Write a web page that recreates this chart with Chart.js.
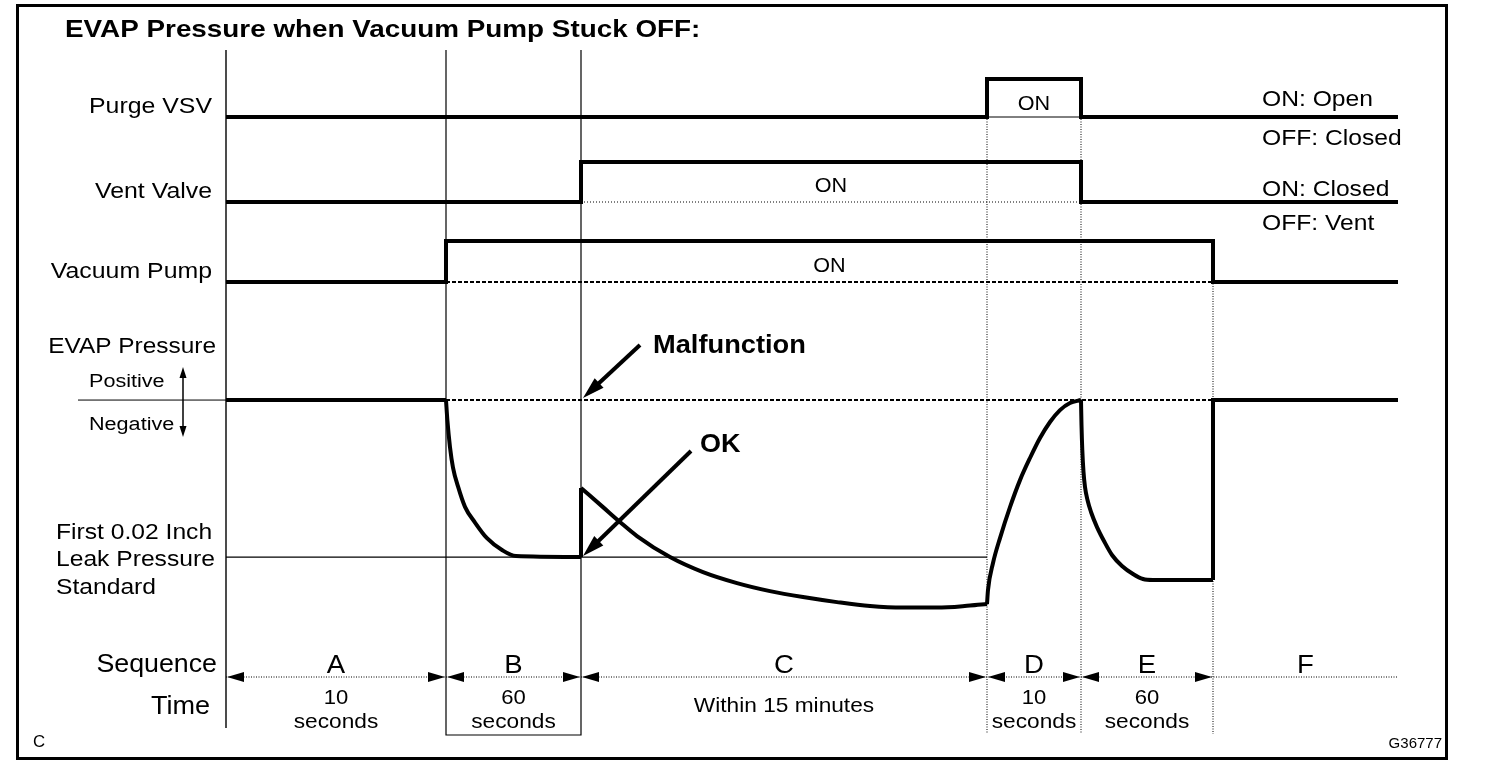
<!DOCTYPE html>
<html>
<head>
<meta charset="utf-8">
<title>EVAP Pressure when Vacuum Pump Stuck OFF</title>
<script src="https://cdn.jsdelivr.net/npm/chart.js@4.4.1/dist/chart.umd.min.js"></script>
<style>
  html, body { margin: 0; padding: 0; background: #fff; overflow: hidden; }
  #wrap { position: relative; width: 1504px; height: 772px; }
  #chart { display: block; }
  #frame { position: absolute; left: 16px; top: 4px; width: 1432px; height: 756px;
           box-sizing: border-box; border: 3px solid #000; pointer-events: none; }
</style>
</head>
<body>
<div id="wrap">
  <canvas id="chart" width="1504" height="772"></canvas>
  <div id="frame"></div>
</div>
<script>
// ------------------------------------------------------------
// Data (schematic timing diagram)
// ------------------------------------------------------------
const phaseNames = ['A', 'B', 'C', 'D', 'E', 'F'];
const phaseTimes = [['10', 'seconds'], ['60', 'seconds'], ['Within 15 minutes'], ['10', 'seconds'], ['60', 'seconds'], []];
// phase boundaries along the (non-linear) time axis, diagram units
const phaseEdges = [0, 22, 35.5, 76.1, 85.5, 98.7, 117.2];

const signalNames = ['Purge VSV', 'Vent Valve', 'Vacuum Pump'];
// 1 = ON per phase A..F
const purgeVsvOn   = [0, 0, 0, 1, 0, 0];
const ventValveOn  = [0, 0, 1, 1, 0, 0];
const vacuumPumpOn = [0, 1, 1, 1, 1, 0];
const stateLegends = [['ON: Open', 'OFF: Closed'], ['ON: Closed', 'OFF: Vent'], []];

// EVAP pressure, 0 = atmospheric, -1 = first 0.02 inch leak standard
const leakStandard = -1;
const pressureIdleA  = [[0, 0], [22, 0]];
const pressureDropB  = [[22, 0], [22.14, -0.13], [22.4, -0.30], [22.7, -0.43], [23.2, -0.55], [23.9, -0.68],
                        [24.9, -0.78], [26.1, -0.88], [27.6, -0.955], [29.0, -0.994], [35.5, -1.0]];
const pressureJump   = [[35.5, -1.0], [35.5, -0.56]];
const pressureDecayC = [[35.5, -0.56], [37.7, -0.682], [39.4, -0.777], [41.1, -0.866], [44.4, -1.0], [47.7, -1.096],
                        [51.1, -1.166], [54.4, -1.217], [57.7, -1.255], [61.1, -1.287], [64.4, -1.312],
                        [67.7, -1.322], [71.1, -1.322], [74.4, -1.309], [76.1, -1.299]];
const pressureRiseD  = [[76.1, -1.299], [76.2, -1.21], [76.7, -1.038], [77.4, -0.879], [78.4, -0.682], [79.4, -0.51],
                        [80.4, -0.369], [81.4, -0.242], [82.4, -0.14], [83.4, -0.064], [84.4, -0.019], [85.5, 0]];
const pressureDropE  = [[85.5, 0], [85.55, -0.159], [85.63, -0.318], [85.75, -0.458], [85.9, -0.554], [86.15, -0.637],
                        [86.5, -0.713], [87.1, -0.809], [87.8, -0.898], [88.6, -0.987], [89.6, -1.057], [90.7, -1.108],
                        [91.7, -1.14], [92.7, -1.146], [98.7, -1.146]];
const pressureVentF  = [[98.7, -1.146], [98.7, 0], [117.2, 0]];

// ------------------------------------------------------------
// Layout (track rows on the y axis, tenths of a pixel row)
// ------------------------------------------------------------
const trackLow  = [11.7, 20.2, 28.2];
const trackHigh = [7.9, 16.2, 24.1];
const FONT = '"Liberation Sans", Arial, Helvetica, sans-serif';

function pts(arr) { return arr.map(p => ({ x: p[0], y: p[1] })); }

function stepLine(states, lo, hi) {
  const out = [];
  states.forEach((s, i) => {
    const v = s ? hi : lo;
    out.push({ x: phaseEdges[i], y: v }, { x: phaseEdges[i + 1], y: v });
  });
  return out;
}

function onSpan(states) {
  const first = states.indexOf(1);
  const last = states.lastIndexOf(1);
  return [phaseEdges[first], phaseEdges[last + 1]];
}

function line(data, opts) {
  return Object.assign({
    data, showLine: true, pointRadius: 0, borderColor: '#000', borderWidth: 1,
    fill: false, tension: 0, yAxisID: 'y', borderCapStyle: 'butt', borderJoinStyle: 'miter',
  }, opts || {});
}

const signalStates = [purgeVsvOn, ventValveOn, vacuumPumpOn];
const baseDash = [[], [1, 2], [4, 2]];
const baseWidth = [1, 1, 2];

const datasets = [];

// signal traces + the thin OFF reference under each ON pulse
signalStates.forEach((st, i) => {
  const [a, b] = onSpan(st);
  datasets.push(line([{ x: a, y: trackLow[i] }, { x: b, y: trackLow[i] }],
    { borderDash: baseDash[i], borderWidth: baseWidth[i] }));
  datasets.push(line(stepLine(st, trackLow[i], trackHigh[i]), { borderWidth: 4 }));
});

// pressure references
const pumpSpan = onSpan(vacuumPumpOn);
datasets.push(line([{ x: pumpSpan[0], y: 0 }, { x: pumpSpan[1], y: 0 }],
  { yAxisID: 'yP', borderDash: [4, 2], borderWidth: 2 }));
datasets.push(line([{ x: phaseEdges[0], y: leakStandard }, { x: phaseEdges[3], y: leakStandard }],
  { yAxisID: 'yP', borderWidth: 1.3 }));
datasets.push(line([{ x: -14.8, y: 0 }, { x: phaseEdges[0], y: 0 }],
  { yAxisID: 'yP', borderWidth: 1 }));

// pressure trace
[pressureIdleA, pressureJump, pressureVentF].forEach(seg =>
  datasets.push(line(pts(seg), { yAxisID: 'yP', borderWidth: 4 })));
[pressureDropB, pressureDecayC, pressureRiseD, pressureDropE].forEach(seg =>
  datasets.push(line(pts(seg), { yAxisID: 'yP', borderWidth: 4, borderJoinStyle: 'round', cubicInterpolationMode: 'monotone' })));

// phase boundaries
datasets.push(line([{ x: phaseEdges[0], y: 5.0 }, { x: phaseEdges[0], y: 72.8 }], { borderWidth: 1.4 }));
datasets.push(line([{ x: phaseEdges[1], y: 5.0 }, { x: phaseEdges[1], y: 73.5 },
                    { x: phaseEdges[2], y: 73.5 }, { x: phaseEdges[2], y: 5.0 }], { borderWidth: 1.2 }));
datasets.push(line([{ x: phaseEdges[3], y: trackHigh[0] }, { x: phaseEdges[3], y: 73.4 }], { borderDash: [1, 1.5] }));
datasets.push(line([{ x: phaseEdges[4], y: trackHigh[0] }, { x: phaseEdges[4], y: 73.4 }], { borderDash: [1, 1.5] }));
datasets.push(line([{ x: phaseEdges[5], y: trackHigh[2] }, { x: phaseEdges[5], y: 73.4 }], { borderDash: [1, 1.5] }));

// sequence dimension line
datasets.push(line([{ x: phaseEdges[0], y: 67.7 }, { x: phaseEdges[6], y: 67.7 }], { borderDash: [1, 1.5] }));

// ------------------------------------------------------------
// Text and arrowheads
// ------------------------------------------------------------
function label(ctx, s, px, py, o) {
  ctx.save();
  ctx.font = (o.bold ? 'bold ' : '') + o.size + 'px ' + FONT;
  ctx.fillStyle = '#000';
  ctx.textAlign = o.align || 'center';
  ctx.textBaseline = 'alphabetic';
  ctx.translate(px, py);
  ctx.scale(o.sx || 1.13, 1);
  ctx.fillText(s, 0, 0);
  ctx.restore();
}

function head(ctx, tx, ty, dx, dy, len, half) {
  const n = Math.hypot(dx, dy); dx /= n; dy /= n;
  const bx = tx - dx * len, by = ty - dy * len;
  ctx.beginPath();
  ctx.moveTo(tx, ty);
  ctx.lineTo(bx - dy * half, by + dx * half);
  ctx.lineTo(bx + dy * half, by - dx * half);
  ctx.closePath();
  ctx.fill();
}

function arrow(ctx, fx, fy, tx, ty, w, len, half) {
  const n = Math.hypot(tx - fx, ty - fy);
  const ex = tx - (tx - fx) / n * len * 0.8, ey = ty - (ty - fy) / n * len * 0.8;
  ctx.save();
  ctx.strokeStyle = '#000'; ctx.fillStyle = '#000'; ctx.lineWidth = w;
  ctx.beginPath(); ctx.moveTo(fx, fy); ctx.lineTo(ex, ey); ctx.stroke();
  head(ctx, tx, ty, tx - fx, ty - fy, len, half);
  ctx.restore();
}

const diagramText = {
  id: 'diagramText',
  afterDatasetsDraw(chart) {
    const { ctx } = chart;
    const X = v => chart.scales.x.getPixelForValue(v);
    const Y = v => chart.scales.y.getPixelForValue(v);
    const P = v => chart.scales.yP.getPixelForValue(v);

    label(ctx, 'EVAP Pressure when Vacuum Pump Stuck OFF:', 65, 37, { size: 24, bold: true, align: 'left', sx: 1.16 });

    // signal rows
    const onDrop = [7, 10, 10];
    const legendOff = [[-11, 28], [-6, 28]];
    signalNames.forEach((name, i) => {
      const lo = Y(trackLow[i]);
      label(ctx, name, X(-1.4), lo - 4, { size: 22, align: 'right' });
      const [a, b] = onSpan(signalStates[i]);
      label(ctx, 'ON', (X(a) + X(b)) / 2, lo - onDrop[i], { size: 20, sx: 1.08 });
      stateLegends[i].forEach((t, k) => {
        label(ctx, t, X(103.6), lo + legendOff[i][k], { size: 22, align: 'left', sx: 1.12 });
      });
    });

    // pressure axis labels
    const p0 = P(0), ps = P(leakStandard);
    label(ctx, 'EVAP Pressure', X(-1.0), p0 - 47, { size: 22, align: 'right', sx: 1.11 });
    label(ctx, 'Positive', 89, p0 - 13, { size: 18, align: 'left', sx: 1.2 });
    label(ctx, 'Negative', 89, p0 + 30, { size: 18, align: 'left', sx: 1.2 });
    ctx.save();
    ctx.strokeStyle = '#000'; ctx.fillStyle = '#000'; ctx.lineWidth = 1.5;
    const ax = X(-4.3);
    ctx.beginPath(); ctx.moveTo(ax, p0 - 24); ctx.lineTo(ax, p0 + 28); ctx.stroke();
    head(ctx, ax, p0 - 33, 0, -1, 11, 3.5);
    head(ctx, ax, p0 + 37, 0, 1, 11, 3.5);
    ctx.restore();

    label(ctx, 'First 0.02 Inch', 56, ps - 18, { size: 22, align: 'left', sx: 1.12 });
    label(ctx, 'Leak Pressure', 56, ps + 9, { size: 22, align: 'left', sx: 1.12 });
    label(ctx, 'Standard', 56, ps + 37, { size: 22, align: 'left', sx: 1.12 });

    // callouts
    const cx = X(phaseEdges[2]);
    arrow(ctx, cx + 59, p0 - 55, cx + 2, p0 - 2, 4, 22, 6.5);
    label(ctx, 'Malfunction', cx + 72, p0 - 47, { size: 25, bold: true, align: 'left', sx: 1.09 });
    arrow(ctx, cx + 110, ps - 106, cx + 2, ps - 1, 4, 22, 6.5);
    label(ctx, 'OK', cx + 119, ps - 105, { size: 25, bold: true, align: 'left', sx: 1.08 });

    // sequence / time rows
    const sy = Y(67.7);
    label(ctx, 'Sequence', X(-0.9), sy - 5, { size: 26, align: 'right', sx: 1.03 });
    label(ctx, 'Time', X(-1.6), sy + 37, { size: 26, align: 'right', sx: 1.04 });
    ctx.fillStyle = '#000';
    phaseNames.forEach((n, i) => {
      const a = X(phaseEdges[i]), b = X(phaseEdges[i + 1]), m = (a + b) / 2;
      label(ctx, n, m, sy - 4, { size: 26, sx: 1.06 });
      const t = phaseTimes[i];
      if (t.length === 1) label(ctx, t[0], m, sy + 35, { size: 21, sx: 1.08 });
      if (t.length === 2) {
        label(ctx, t[0], m, sy + 27, { size: 21, sx: 1.05 });
        label(ctx, t[1], m, sy + 51, { size: 21, sx: 1.08 });
      }
      if (t.length) {
        head(ctx, a + 1, sy, -1, 0, 17, 5);
        head(ctx, b - 1, sy, 1, 0, 17, 5);
      }
    });

    label(ctx, 'C', 33, 747, { size: 16, align: 'left', sx: 1.05 });
    label(ctx, 'G36777', 1442, 748, { size: 15, align: 'right', sx: 1.0 });
  }
};

new Chart(document.getElementById('chart'), {
  type: 'scatter',
  data: { datasets },
  options: {
    responsive: false,
    animation: false,
    events: [],
    layout: { padding: 0, autoPadding: false },
    plugins: { legend: { display: false }, tooltip: { enabled: false } },
    scales: {
      x: { type: 'linear', display: false, min: -22.6, max: 127.8 },
      y: { type: 'linear', display: false, reverse: true, min: 0, max: 77.2 },
      yP: { type: 'linear', axis: 'y', display: false, min: -2.369, max: 2.548 },
    },
  },
  plugins: [diagramText],
});
</script>
</body>
</html>
